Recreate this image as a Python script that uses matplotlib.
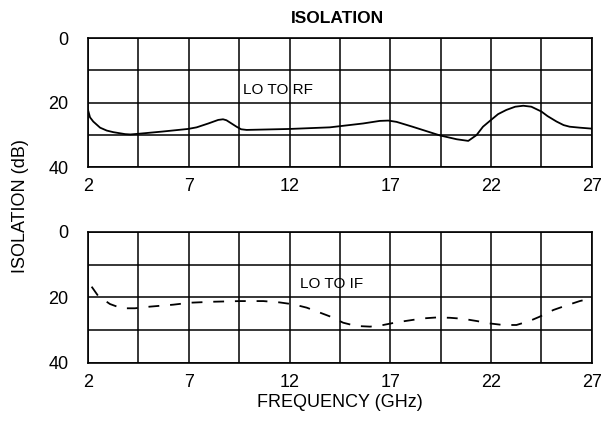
import matplotlib
matplotlib.use('Agg')
import matplotlib.pyplot as plt
import numpy as np

plt.rcParams['font.family'] = ['Liberation Sans Narrow', 'Liberation Sans', 'DejaVu Sans']

# LO to RF isolation (solid)
rf_freq = [2.0, 2.1, 2.26, 2.6, 2.93, 3.26, 3.84, 4.1, 4.5, 5.7, 6.96, 7.39, 7.97, 8.46, 8.7, 8.87,
           9.37, 9.6, 9.87, 12.0, 14.0, 15.65, 16.48, 16.9, 17.31, 18.1, 19.46, 20.3, 20.87, 21.28,
           21.6, 22.0, 22.35, 22.76, 23.2, 23.6, 24.0, 24.5, 24.8, 25.25, 25.6, 25.9, 26.4, 27.0]
rf_iso = [22.3, 24.6, 25.9, 27.8, 28.7, 29.2, 29.8, 29.9, 29.7, 29.0, 28.2, 27.7, 26.5, 25.4, 25.2, 25.5,
          27.5, 28.3, 28.5, 28.2, 27.7, 26.5, 25.7, 25.6, 26.0, 27.5, 30.2, 31.4, 31.9, 30.1,
          27.5, 25.4, 23.6, 22.3, 21.3, 21.0, 21.3, 22.8, 24.2, 25.9, 27.0, 27.5, 27.8, 28.1]

# LO to IF isolation (dashed)
if_freq = [2.18, 2.5, 3.09, 3.67, 4.33, 5.07, 6.23, 7.06, 8.2, 9.54, 10.7, 11.5, 12.2, 12.85,
           13.5, 14.1, 14.66, 15.3, 16.0, 16.65, 17.3, 18.6, 19.3, 19.96, 20.6, 21.3, 21.9,
           22.6, 23.26, 23.9, 24.4, 25.1, 25.66, 26.4, 27.0]
if_iso = [16.7, 19.5, 22.0, 23.3, 23.3, 22.8, 22.2, 21.6, 21.3, 21.1, 21.1, 21.5, 22.1, 23.1,
          24.6, 26.0, 27.7, 28.7, 28.9, 28.4, 27.6, 26.4, 26.1, 26.2, 26.5, 27.2, 27.9,
          28.4, 28.4, 27.2, 25.9, 23.8, 22.6, 21.1, 20.2]

x_ticks = [2, 7, 12, 17, 22, 27]
y_ticks = [0, 20, 40]

fig = plt.figure(figsize=(6.12, 4.21), dpi=100)
ax1 = fig.add_axes([0.1438, 0.6033, 0.8232, 0.3064])
ax2 = fig.add_axes([0.1438, 0.1378, 0.8232, 0.3112])

for ax in (ax1, ax2):
    ax.set_xlim(2, 27)
    ax.set_ylim(40, 0)
    ax.set_xticks(x_ticks)
    ax.set_xticks(np.arange(4.5, 27, 5), minor=True)
    ax.set_yticks(y_ticks)
    ax.set_yticks([10, 30], minor=True)
    ax.grid(True, which='both', color='black', linewidth=1.1)
    ax.tick_params(which='both', length=0, labelsize=13)
    ax.tick_params(axis='x', pad=8)
    ax.tick_params(axis='y', pad=14)
    for s in ax.spines.values():
        s.set_linewidth(1.2)
    ax.set_axisbelow(True)

ax1.plot(rf_freq, rf_iso, color='black', linewidth=1.3, solid_joinstyle='round')
ax1.text(9.7, 16.1, 'LO TO RF', fontsize=11, va='center', ha='left')

ax2.plot(if_freq, if_iso, color='black', linewidth=1.3, linestyle=(0, (6, 6)))
ax2.text(12.5, 15.9, 'LO TO IF', fontsize=11, va='center', ha='left')

fig.text(0.552, 0.957, 'ISOLATION', fontsize=12.5, fontweight='bold', ha='center', va='center')
fig.text(0.555, 0.043, 'FREQUENCY (GHz)', fontsize=13, ha='center', va='center')
fig.text(0.033, 0.51, 'ISOLATION (dB)', fontsize=13, rotation=90, ha='center', va='center')

plt.savefig('out.png', dpi=100)
